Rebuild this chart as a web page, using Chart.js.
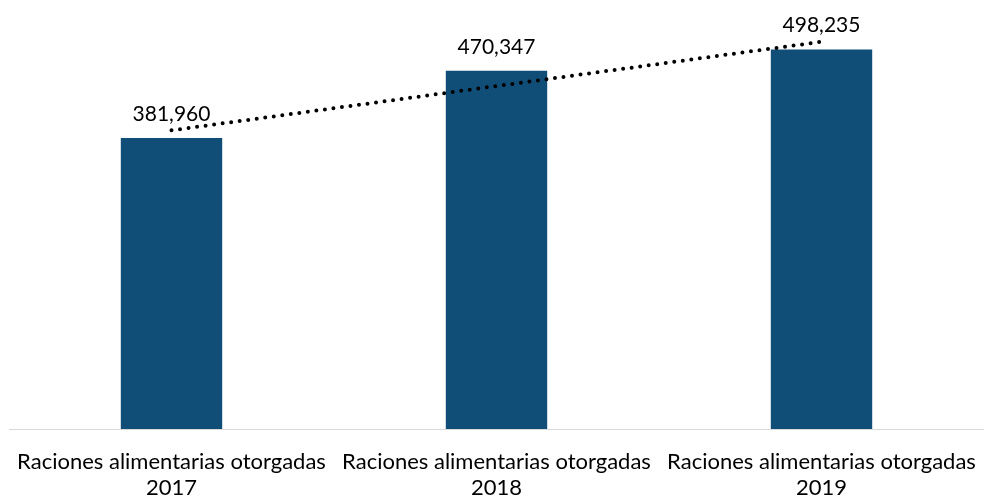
<!DOCTYPE html>
<html>
<head>
<meta charset="utf-8">
<script src="https://cdn.jsdelivr.net/npm/chart.js@4/dist/chart.umd.min.js"></script>
<style>
html,body{margin:0;padding:0;background:#fff;}
#wrap{width:984px;height:497px;}
</style>
</head>
<body>
<div id="wrap"><canvas id="c" width="984" height="497"></canvas></div>
<script>
const categories = [["Raciones alimentarias otorgadas","2017"],["Raciones alimentarias otorgadas","2018"],["Raciones alimentarias otorgadas","2019"]];
const rations = [381960, 470347, 498235];
const trendValues = [392040, 450180, 508320];

const labelPlugin = {
  id: 'valueLabels',
  afterDatasetsDraw(chart) {
    const ctx = chart.ctx;
    const meta = chart.getDatasetMeta(1);
    const xs = chart.scales.x;
    ctx.save();
    ctx.font = '21px Lato';
    ctx.fillStyle = '#000';
    ctx.textAlign = 'center';
    ctx.textBaseline = 'alphabetic';
    meta.data.forEach((bar, i) => {
      ctx.fillText(rations[i].toLocaleString('en-US'), bar.x, bar.y - 17);
    });
    ctx.font = '22px Lato';
    ctx.textBaseline = 'middle';
    const base = chart.chartArea.bottom;
    categories.forEach((lines, i) => {
      const x = xs.getPixelForValue(i);
      lines.forEach((t, j) => ctx.fillText(t, x, base + 33 + j * 26));
    });
    ctx.restore();
  }
};

new Chart(document.getElementById('c'), {
  type: 'bar',
  data: {
    labels: categories,
    datasets: [
      {
        type: 'line',
        data: trendValues,
        borderColor: '#000',
        borderWidth: 4,
        borderDash: [0, 8.6],
        borderCapStyle: 'round',
        pointRadius: 0,
        fill: false,
        tension: 0,
        order: 0
      },
      {
        type: 'bar',
        data: rations,
        backgroundColor: '#104E78',
        barPercentage: 0.312,
        categoryPercentage: 1,
        order: 1
      }
    ]
  },
  options: {
    responsive: false,
    animation: false,
    layout: { padding: { left: 9, right: 0, top: 10, bottom: 68 } },
    plugins: { legend: { display: false }, tooltip: { enabled: false } },
    scales: {
      x: {
        grid: { display: false, drawTicks: false },
        border: { display: true, color: '#d9d9d9', width: 1 },
        ticks: { display: false }
      },
      y: {
        display: false,
        min: 0,
        max: 550000
      }
    }
  },
  plugins: [labelPlugin]
});
</script>
</body>
</html>
